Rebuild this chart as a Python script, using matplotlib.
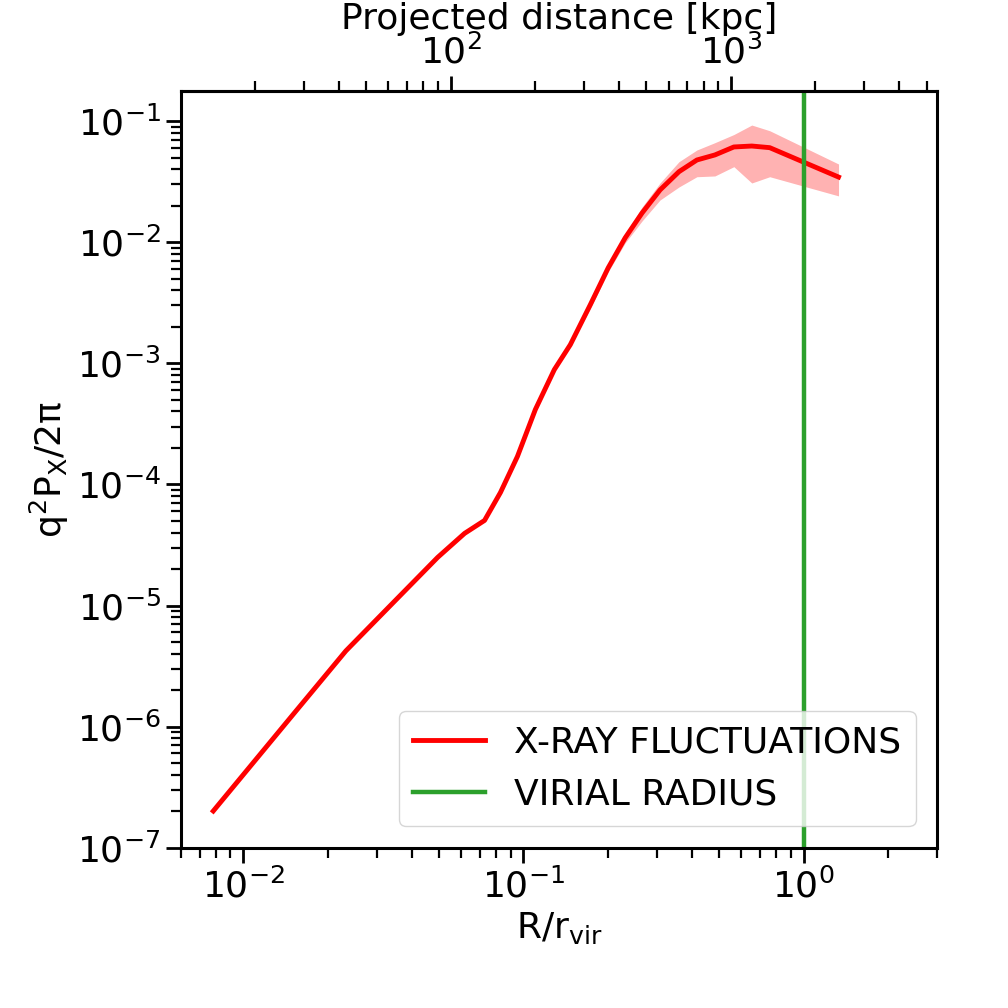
import matplotlib
matplotlib.use('Agg')
import matplotlib.pyplot as plt
import matplotlib.ticker as mticker
import numpy as np

# ── Data ─────────────────────────────────────────────────────────────────────
r_over_rvir = [0.00782, 0.01531, 0.02325, 0.03475, 0.04943, 0.06166, 0.07265,
               0.08280, 0.09519, 0.1103, 0.1289, 0.1470, 0.1732, 0.2007,
               0.2307, 0.2652, 0.3073, 0.3591, 0.4160, 0.4823, 0.5636,
               0.6530, 0.7568, 1.332]
power = [2.01e-7, 1.317e-6, 4.22e-6, 1.089e-5, 2.497e-5, 3.94e-5, 5.04e-5,
         8.57e-5, 1.70e-4, 4.15e-4, 8.86e-4, 1.423e-3, 3.04e-3, 6.14e-3,
         0.01085, 0.01744, 0.02699, 0.0382, 0.0477, 0.0525, 0.0611,
         0.0622, 0.0603, 0.0345]
power_lo = [1.96e-7, 1.29e-6, 4.13e-6, 1.067e-5, 2.44e-5, 3.86e-5, 4.93e-5,
            8.38e-5, 1.66e-4, 4.05e-4, 8.65e-4, 1.39e-3, 2.82e-3, 5.69e-3,
            9.87e-3, 0.01498, 0.0223, 0.02856, 0.0347, 0.0352, 0.0420,
            0.0308, 0.0347, 0.0241]
power_hi = [2.06e-7, 1.345e-6, 4.31e-6, 1.11e-5, 2.55e-5, 4.02e-5, 5.15e-5,
            8.77e-5, 1.74e-4, 4.25e-4, 9.08e-4, 1.46e-3, 3.22e-3, 6.50e-3,
            0.0117, 0.01954, 0.0308, 0.0462, 0.0577, 0.0663, 0.0774,
            0.0927, 0.0832, 0.0442]
r_vir_kpc = 1820.0
top_major = [100, 1000]

FS = 26

fig = plt.figure(figsize=(10.08, 10.08), dpi=100)
ax = fig.add_axes([0.1796, 0.159, 0.7503, 0.7507])

ax.fill_between(r_over_rvir, power_lo, power_hi, color='red', alpha=0.3, lw=0)
ax.plot(r_over_rvir, power, color='red', lw=3.5, label='X-RAY FLUCTUATIONS')
ax.axvline(1.0, color='#2ca02c', lw=3.2, label='VIRIAL RADIUS')

ax.set_xscale('log')
ax.set_yscale('log')
ax.set_xlim(0.006, 3.0)
ax.set_ylim(1e-7, 0.177)

ax.set_xlabel(r'$\mathrm{R/r_{vir}}$', fontsize=FS)
ax.set_ylabel(r'$\mathrm{q^2P_X/2\pi}$', fontsize=FS)

for s in ax.spines.values():
    s.set_linewidth(2.2)
ax.tick_params(which='major', direction='out', length=11, width=2,
               labelsize=FS, right=False, top=False)
ax.tick_params(which='minor', direction='out', length=7, width=1.6,
               right=False, top=False)
ax.yaxis.set_minor_locator(mticker.LogLocator(base=10, subs=np.arange(2, 10), numticks=20))

# secondary axis: projected distance in kpc
top = ax.secondary_xaxis('top', functions=(lambda x: x * r_vir_kpc,
                                           lambda x: x / r_vir_kpc))
top.set_xlabel('Projected distance [kpc]', fontsize=FS)
top.xaxis.set_major_locator(mticker.FixedLocator(top_major))
top.xaxis.set_major_formatter(mticker.LogFormatterSciNotation())
top.tick_params(which='major', direction='out', length=11, width=2, labelsize=FS)
top.tick_params(which='minor', direction='out', length=7, width=1.6)
top.spines['top'].set_linewidth(2.2)

ax.legend(loc='lower right', fontsize=FS, borderaxespad=0.6)

fig.savefig('out.png', dpi=100)
